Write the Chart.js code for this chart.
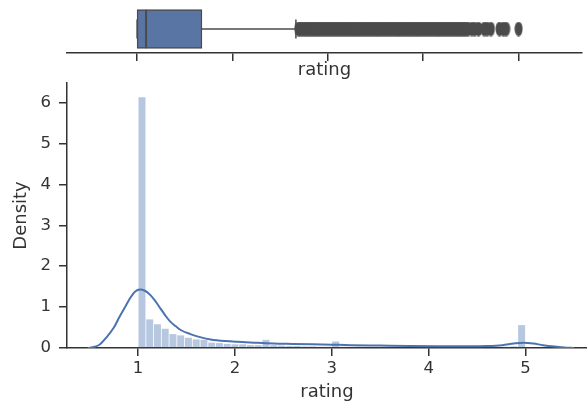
<!DOCTYPE html>
<html>
<head>
<meta charset="utf-8">
<script src="https://cdn.jsdelivr.net/npm/chart.js@4.4.1/dist/chart.umd.min.js"></script>
<style>
  html, body { margin: 0; padding: 0; background: #fff; }
  body { width: 587px; height: 408px; position: relative; overflow: hidden; }
  canvas { position: absolute; left: 0; }
  #chart-box  { top: 0; }
  #chart-hist { top: 78px; }
</style>
</head>
<body>
<canvas id="chart-box" width="587" height="85"></canvas>
<canvas id="chart-hist" width="587" height="330"></canvas>
<script>
// Axis ranges / ticks (box panel and main panel)
const BOX_X_RANGE  = [0.265, 5.665];
const HIST_X_RANGE = [0.266, 5.635];
const Y_MAX = 6.48;
const xTicks = [1, 2, 3, 4, 5];
const yTicks = [0, 1, 2, 3, 4, 5, 6];

// Histogram: 50 bins of width 0.08 from 1 to 5 (bin centres + density)
const binCenters = [
  1.04, 1.12, 1.20, 1.28, 1.36, 1.44, 1.52, 1.60, 1.68, 1.76,
  1.84, 1.92, 2.00, 2.08, 2.16, 2.24, 2.32, 2.40, 2.48, 2.56,
  2.64, 2.72, 2.80, 2.88, 2.96, 3.04, 3.12, 3.20, 3.28, 3.36,
  3.44, 3.52, 3.60, 3.68, 3.76, 3.84, 3.92, 4.00, 4.08, 4.16,
  4.24, 4.32, 4.40, 4.48, 4.56, 4.64, 4.72, 4.80, 4.88, 4.96,
];
const binDensity = [
  6.13, 0.70, 0.58, 0.47, 0.34, 0.31, 0.25, 0.21, 0.20, 0.13,
  0.12, 0.10, 0.09, 0.09, 0.07, 0.07, 0.20, 0.07, 0.06, 0.05,
  0.05, 0.04, 0.04, 0.03, 0.03, 0.16, 0.03, 0.02, 0.03, 0.02,
  0.02, 0.02, 0.03, 0.02, 0.02, 0.02, 0.02, 0.03, 0.02, 0.02,
  0.02, 0.02, 0.02, 0.02, 0.02, 0.03, 0.02, 0.03, 0.04, 0.56,
];

// KDE curve
const kdeX = [
  0.48, 0.55, 0.60, 0.67, 0.75, 0.81, 0.87, 0.92, 0.97, 1.02,
  1.07, 1.125, 1.18, 1.23, 1.28, 1.33, 1.39, 1.44, 1.54, 1.65,
  1.75, 1.90, 2.03, 2.20, 2.40, 2.60, 2.80, 3.00, 3.20, 3.50,
  3.80, 4.10, 4.40, 4.60, 4.76, 4.88, 4.98, 5.08, 5.18, 5.30,
  5.40, 5.50,
];
const kdeY = [
  0.00, 0.03, 0.08, 0.25, 0.50, 0.77, 1.02, 1.23, 1.38, 1.43,
  1.40, 1.30, 1.14, 0.97, 0.80, 0.65, 0.53, 0.44, 0.34, 0.26,
  0.21, 0.17, 0.15, 0.13, 0.11, 0.10, 0.09, 0.08, 0.07, 0.06,
  0.05, 0.045, 0.045, 0.05, 0.07, 0.11, 0.13, 0.11, 0.07, 0.035,
  0.015, 0.003,
];

// Box plot: q1, median, q3 / whisker ends / fliers
const quartiles = [1.0, 1.094, 1.68];
const whiskers  = [1.0, 2.665];
const outliers  = [
  2.69, 2.71, 2.73, 2.75, 2.77, 2.79, 2.81, 2.83, 2.85, 2.87,
  2.89, 2.91, 2.93, 2.95, 2.97, 2.99, 3.01, 3.03, 3.05, 3.07,
  3.09, 3.11, 3.13, 3.15, 3.17, 3.19, 3.21, 3.23, 3.25, 3.27,
  3.29, 3.31, 3.33, 3.35, 3.37, 3.39, 3.41, 3.43, 3.45, 3.47,
  3.49, 3.51, 3.53, 3.55, 3.57, 3.59, 3.61, 3.63, 3.65, 3.67,
  3.69, 3.71, 3.73, 3.75, 3.77, 3.79, 3.81, 3.83, 3.85, 3.87,
  3.89, 3.91, 3.93, 3.95, 3.97, 3.99, 4.01, 4.03, 4.05, 4.07,
  4.09, 4.11, 4.13, 4.15, 4.17, 4.19, 4.21, 4.23, 4.25, 4.27,
  4.29, 4.31, 4.33, 4.35, 4.37, 4.39, 4.41, 4.43, 4.45, 4.47,
  4.51, 4.54, 4.58, 4.64, 4.67, 4.71, 4.80, 4.84, 4.87, 5.00,
];

const AXIS_COLOR = '#333333';
const TEXT_COLOR = '#333333';
const BLUE       = '#4c72b0';
const BAR_FILL   = 'rgba(76, 114, 176, 0.4)';
const BOX_FILL   = '#5875a4';
const EDGE       = '#4b4b4b';

Chart.defaults.font.family = "'DejaVu Sans', sans-serif";
Chart.defaults.color = TEXT_COLOR;

function fixedTicks(values) {
  return (scale) => { scale.ticks = values.map((v) => ({ value: v })); };
}

// force axis box size and drop the label overhang padding
function fitTo(size) {
  return (scale) => {
    if (scale.isHorizontal()) scale.height = size; else scale.width = size;
    scale.paddingTop = 0; scale.paddingBottom = 0;
    scale.paddingLeft = 0; scale.paddingRight = 0;
  };
}

function axisGrid() {
  return {
    display: true,
    offset: false,
    drawOnChartArea: false,
    drawTicks: true,
    tickLength: 8,
    color: AXIS_COLOR,
    lineWidth: 1.5,
  };
}

function axisTitle(text, padding) {
  return { display: true, text, color: TEXT_COLOR, font: { size: 18 }, padding };
}

function flierMarker() {
  const c = document.createElement('canvas');
  c.width = 9; c.height = 15;
  const g = c.getContext('2d');
  g.fillStyle = EDGE;
  g.beginPath();
  g.ellipse(4.5, 7.5, 4.0, 7.3, 0, 0, Math.PI * 2);
  g.fill();
  return c;
}

function segment(x0, y0, x1, y1, width) {
  return {
    type: 'line',
    data: [{ x: x0, y: y0 }, { x: x1, y: y1 }],
    borderColor: EDGE,
    borderWidth: width,
    pointRadius: 0,
    order: 0,
  };
}

// ---- top panel: box plot ----
const [q1, med, q3] = quartiles;
const [wLo, wHi] = whiskers;

new Chart(document.getElementById('chart-box'), {
  type: 'bar',
  data: {
    datasets: [
      segment(med, -0.4, med, 0.4, 2),
      segment(wLo, 0, q1, 0, 1.5),
      segment(q3, 0, wHi, 0, 1.5),
      segment(wLo, -0.2, wLo, 0.2, 1.5),
      segment(wHi, -0.2, wHi, 0.2, 1.5),
      {
        type: 'line',
        showLine: false,
        data: outliers.map((v) => ({ x: v, y: 0 })),
        pointStyle: flierMarker(),
        pointRadius: 4,
        order: 1,
      },
      {
        type: 'bar',
        data: [{ x: [q1, q3], y: 0 }],
        backgroundColor: BOX_FILL,
        borderColor: EDGE,
        borderWidth: 1.5,
        borderSkipped: false,
        barThickness: 39,
        order: 5,
      },
    ],
  },
  options: {
    indexAxis: 'y',
    animation: false,
    responsive: false,
    events: [],
    layout: { padding: { left: 67, right: 0, top: 5, bottom: 0 } },
    plugins: { legend: { display: false }, tooltip: { enabled: false } },
    scales: {
      x: {
        type: 'linear', min: BOX_X_RANGE[0], max: BOX_X_RANGE[1], offset: false,
        afterBuildTicks: fixedTicks(xTicks),
        afterFit: fitTo(32),
        grid: axisGrid(),
        border: { display: true, color: AXIS_COLOR, width: 1.5 },
        ticks: { display: false },
        title: axisTitle('rating', { top: 0, bottom: 4 }),
      },
      y: { type: 'linear', min: -0.5, max: 0.5, offset: false, display: false },
    },
  },
});

// ---- main panel: histogram + kde ----
new Chart(document.getElementById('chart-hist'), {
  type: 'bar',
  data: {
    datasets: [
      {
        type: 'line',
        data: kdeX.map((x, i) => ({ x, y: kdeY[i] })),
        borderColor: BLUE,
        borderWidth: 2,
        pointRadius: 0,
        cubicInterpolationMode: 'monotone',
        order: 0,
      },
      {
        type: 'bar',
        data: binCenters.map((x, i) => ({ x, y: binDensity[i] })),
        backgroundColor: BAR_FILL,
        borderWidth: 0,
        barPercentage: 1,
        categoryPercentage: 0.9,
        order: 1,
      },
    ],
  },
  options: {
    animation: false,
    responsive: false,
    events: [],
    layout: { padding: { left: 0, right: 0, top: 5, bottom: 0 } },
    plugins: { legend: { display: false }, tooltip: { enabled: false } },
    scales: {
      x: {
        type: 'linear', min: HIST_X_RANGE[0], max: HIST_X_RANGE[1], offset: false,
        afterBuildTicks: fixedTicks(xTicks),
        afterFit: fitTo(60),
        grid: axisGrid(),
        border: { display: true, color: AXIS_COLOR, width: 1.5 },
        ticks: { color: TEXT_COLOR, font: { size: 16.5 }, padding: 3, maxRotation: 0 },
        title: axisTitle('rating', { top: 0, bottom: 5 }),
      },
      y: {
        type: 'linear', min: 0, max: Y_MAX,
        afterBuildTicks: fixedTicks(yTicks),
        afterFit: fitTo(67),
        grid: axisGrid(),
        border: { display: true, color: AXIS_COLOR, width: 1.5 },
        ticks: { color: TEXT_COLOR, font: { size: 16.5 }, padding: 8 },
        title: axisTitle('Density', { top: 11, bottom: 0 }),
      },
    },
  },
});
</script>
</body>
</html>
